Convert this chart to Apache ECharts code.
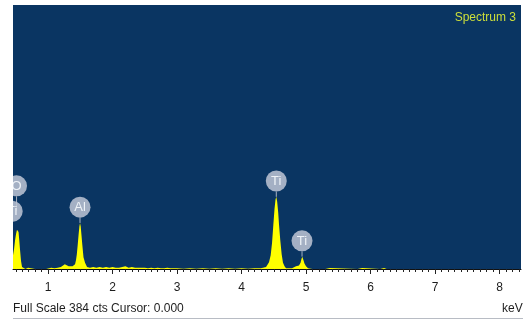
<!DOCTYPE html>
<html>
<head>
<meta charset="utf-8">
<script src="https://cdn.jsdelivr.net/npm/echarts@6/dist/echarts.min.js"></script>
<style>
html,body{margin:0;padding:0;background:#fff;}
#c{width:523px;height:320px;}
</style>
</head>
<body>
<div id="c"></div>
<script>
// Spectrum data (keV, counts)
var energies = [0.457,0.473,0.488,0.504,0.519,0.530,0.543,0.555,0.566,0.581,0.597,0.612,0.65,0.68,0.69,0.70,0.80,0.90,0.97,
1.00,1.05,1.10,1.15,1.20,1.23,1.26,1.29,1.32,1.35,1.38,1.40,1.419,1.434,1.446,1.460,1.473,1.486,1.496,1.507,1.519,1.532,1.550,1.574,1.605,
1.65,1.70,1.75,1.80,1.85,1.90,1.95,2.00,2.05,2.10,2.15,2.20,2.25,2.30,2.35,2.40,2.45,2.50,2.55,2.60,2.65,2.70,2.75,2.80,2.85,2.90,2.95,3.00,
3.10,3.20,3.30,3.40,3.50,3.60,3.70,3.80,3.90,4.00,4.10,4.20,4.30,4.333,4.364,4.380,4.400,4.426,4.452,4.473,4.493,4.512,4.527,4.539,4.553,4.569,4.581,4.601,4.623,4.643,4.667,4.690,
4.72,4.75,4.783,4.806,4.845,4.891,4.915,4.930,4.942,4.957,4.976,5.000,5.031,5.10,5.30,5.37,5.40,5.80,5.87,5.90,6.15,6.21,6.25,7.05,7.12,7.15];
var counts = [20,29,41,51,57,58,54,41,28,12,3,1,0,0,2,0,0,0,0,
1.5,2,1,2,3,5,7,5,4,5,4,4,7,13,21,35,49,62,67,62,49,35,17,9,3,
2,3,2,3,2,3,2,3,2,2,3,4,2,3,2,2,2,2,1,2,1,2,1,1,2,1,1,1,
0.5,1,0.5,1,0.5,1,0.5,1,0.5,1,0.5,1,1,2,2,3,6,10,20,38,64,88,101,105,98,82,65,42,21,9,4,1,
0.5,1,1,3,4,5,9,15,18,14,8,4,1,0,0,1.5,0,0,1.5,0,0,1.5,0,0,1.5,0];

// Peak labels
var labelNames = ['O','Ti','Al','Ti','Ti'];
var labelEnergies = [0.512,0.445,1.496,4.539,4.938];
var labelCounts = [121,84,90,128,41];
var labelPeakCounts = [84,58,67,105,18];

var tickLabels = [1,2,3,4,5,6,7,8];
var minorTicks = [];
for (var t = 5; t <= 83; t++) { if (t % 10 !== 0) minorTicks.push(t / 10); }

var xMin = 0.457, xMax = 8.333, yMax = 384;

var spectrum = energies.map(function (e, i) { return [e, counts[i]]; });
var labels = labelNames.map(function (n, i) { return [labelEnergies[i], labelCounts[i], labelPeakCounts[i], i]; });

var font = "'Liberation Sans', Arial, sans-serif";
var chart = echarts.init(document.getElementById('c'));
chart.setOption({
  animation: false,
  backgroundColor: '#ffffff',
  title: {
    text: 'Spectrum 3', right: 2, top: 7,
    textStyle: { color: '#cddf3a', fontSize: 12, fontWeight: 'normal', fontFamily: font }
  },
  grid: {
    left: 13, right: 2, top: 5, bottom: 51,
    show: true, backgroundColor: '#0a3562', borderWidth: 0
  },
  xAxis: [{
    type: 'value', min: xMin, max: xMax, position: 'bottom', z: 10,
    axisLine: { show: true, lineStyle: { color: '#111', width: 1 } },
    axisTick: { show: true, customValues: tickLabels, length: 5, lineStyle: { color: '#222' } },
    axisLabel: { show: true, customValues: tickLabels, margin: 13, color: '#1d1d1d', fontSize: 12, fontFamily: font },
    splitLine: { show: false }
  }, {
    type: 'value', min: xMin, max: xMax, position: 'bottom', offset: 0, z: 10,
    axisLine: { show: false },
    axisTick: { show: true, customValues: minorTicks, length: 3, lineStyle: { color: '#222' } },
    axisLabel: { show: false },
    splitLine: { show: false }
  }],
  yAxis: { type: 'value', min: 0, max: yMax, show: false, splitLine: { show: false } },
  series: [{
    type: 'line', data: spectrum, xAxisIndex: 0, showSymbol: false, smooth: false,
    lineStyle: { width: 1, color: '#ffff00', opacity: 0 },
    areaStyle: { color: '#ffff00', opacity: 1 },
    clip: true, silent: true
  }, {
    type: 'custom', data: labels, xAxisIndex: 0, clip: true, silent: true,
    renderItem: function (params, api) {
      var p = api.coord([api.value(0), api.value(1)]);
      var q = api.coord([api.value(0), api.value(2)]);
      var r = 10.5;
      return {
        type: 'group',
        children: [{
          type: 'line',
          shape: { x1: p[0], y1: p[1] + r, x2: p[0], y2: q[1] },
          style: { stroke: '#a9b3c4', lineWidth: 1 }
        }, {
          type: 'circle',
          shape: { cx: p[0], cy: p[1], r: r },
          style: { fill: 'rgba(185,194,210,0.88)' }
        }, {
          type: 'text',
          style: {
            text: labelNames[api.value(3)], x: p[0], y: p[1] + 0.5,
            align: 'center', verticalAlign: 'middle',
            fill: '#eef2f7', fontSize: 13, fontFamily: font
          }
        }]
      };
    }
  }],
  graphic: [{
    type: 'text', left: 13, top: 303,
    style: { text: 'Full Scale 384 cts Cursor: 0.000', fill: '#1d1d1d', fontSize: 12, fontFamily: font }
  }, {
    type: 'text', left: 502, top: 303,
    style: { text: 'keV', fill: '#1d1d1d', fontSize: 12, fontFamily: font }
  }, {
    type: 'line', shape: { x1: 13, y1: 318.5, x2: 523, y2: 318.5 },
    style: { stroke: '#b8bcc4', lineWidth: 1 }
  }]
});
</script>
</body>
</html>
